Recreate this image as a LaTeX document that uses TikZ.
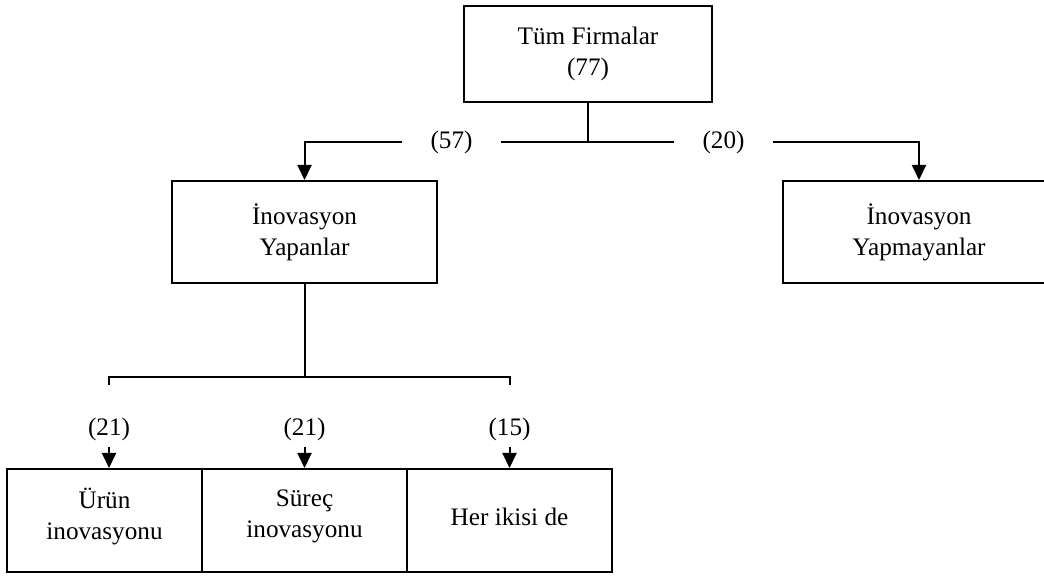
\documentclass[tikz,border=0pt]{standalone}
\usepackage{fontspec}
\setmainfont{Liberation Serif}
\usetikzlibrary{arrows.meta}
\begin{document}
\begin{tikzpicture}[x=.5pt,y=-.5pt,line width=1pt,
  font=\fontsize{12.6}{15.5}\selectfont,
  kutu/.style={draw,align=center,inner sep=0pt},
  sayi/.style={inner xsep=0pt,inner ysep=3pt},
  ok/.style={-{Triangle[length=7.5pt,width=7pt]}}]
\useasboundingbox (0,0) rectangle (1044,576);
\node[kutu,minimum width=124pt,minimum height=48pt] (tum) at (588,54) {Tüm Firmalar\\(77)};
\node[kutu,minimum width=132.5pt,minimum height=51pt] (yapan) at (304.5,232) {İnovasyon\\Yapanlar};
\node[kutu,minimum width=136pt,minimum height=51pt] (yapmayan) at (919,232) {İnovasyon\\Yapmayanlar};
\node[kutu,minimum width=97.5pt,minimum height=51.5pt,text depth=7pt] (urun) at (104.5,520.5) {Ürün\\inovasyonu};
\node[kutu,minimum width=102.5pt,minimum height=51.5pt,text depth=7pt] (surec) at (304.5,520.5) {Süreç\\inovasyonu};
\node[kutu,minimum width=102.5pt,minimum height=51.5pt,text depth=4pt] (ikisi) at (509.5,520.5) {Her ikisi de};
\node[sayi,minimum width=48.5pt] (n57) at (451.5,142) {(57)};
\node[sayi,minimum width=48.5pt] (n20) at (723.5,142) {(20)};
\node[sayi] (n21a) at (109,429) {(21)};
\node[sayi] (n21b) at (304.5,429) {(21)};
\node[sayi] (n15) at (509.5,429) {(15)};
\coordinate (bj) at (304.5,377);
\coordinate (bl) at (109,385);
\coordinate (br) at (509.5,385);
\draw (tum.south) -- (tum.south |- n57.east);
\draw (n57.east) -- (n20.west);
\draw[ok] (n57.west) -| (yapan.north);
\draw[ok] (n20.east) -| (yapmayan.north);
\draw (yapan.south) -- (bj);
\draw (bl) |- (bj) -| (br);
\draw[ok] (n21a.south) -- (n21a.south |- urun.north);
\draw[ok] (n21b.south) -- (surec.north);
\draw[ok] (n15.south) -- (ikisi.north);
\end{tikzpicture}
\end{document}
